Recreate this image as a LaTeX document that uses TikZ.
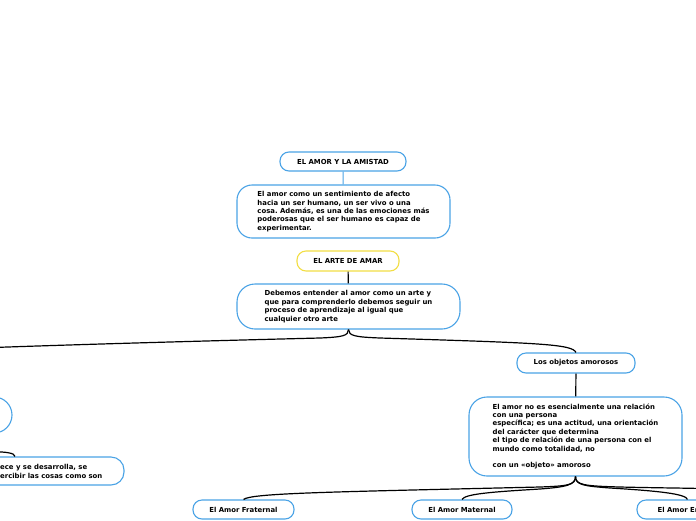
\documentclass[tikz,border=0pt]{standalone}
\usepackage{fontspec}
\setmainfont{DejaVu Sans}
\definecolor{bl}{HTML}{4AA3E6}
\definecolor{yl}{HTML}{F2DE45}
\frenchspacing
\begin{document}
\begin{tikzpicture}[x=1pt,y=-1pt,
  txt/.style={font=\fontsize{6.9}{8.4}\selectfont\bfseries, text=black},
  box/.style={txt, draw=bl, line width=1.1pt, rounded corners=9pt, fill=white, inner sep=0pt, align=center},
  big/.style={box, rounded corners=15pt, align=left},
  link/.style={line width=1.2pt, draw=black}]
\useasboundingbox (0,0) rectangle (696,520);
\clip (0,0) rectangle (696,520);
\fill[white] (0,0) rectangle (696,520);

% nodes
\node[box, minimum width=126pt, minimum height=19pt] (t1) at (343,161.5) {EL AMOR Y LA AMISTAD};
\node[big, minimum width=213pt, minimum height=53pt] (d1) at (343.5,211.5) {El amor como un sentimiento de afecto\\hacia un ser humano, un ser vivo o una\\cosa. Además, es una de las emociones más\hspace*{4pt}\\poderosas que el ser humano es capaz de\\experimentar.};
\node[box, draw=yl, minimum width=102pt, minimum height=20pt] (t2) at (348,261) {EL ARTE DE AMAR};
\node[big, minimum width=223pt, minimum height=45pt, rounded corners=18pt] (d2) at (348.5,306.5) {Debemos entender al amor como un arte y\\que para comprenderlo debemos seguir un\hspace*{7pt}\\proceso de aprendizaje al igual que\\cualquier otro arte};
\node[box, minimum width=118pt, minimum height=20pt] (o) at (576,363) {Los objetos amorosos};
\node[big, minimum width=213pt, minimum height=79pt, rounded corners=18pt] (d3) at (575.5,436.5) {El amor no es esencialmente una relación\\con una persona\\específica; es una actitud, una orientación\hspace*{8pt}\\del carácter que determina\\el tipo de relación de una persona con el\\mundo como totalidad, no\\~\\con un «objeto» amoroso};
\node[box, minimum width=101pt, minimum height=19pt] (f) at (243.5,509.5) {El Amor Fraternal};
\node[box, minimum width=100pt, minimum height=19pt] (m) at (462,509.5) {El Amor Maternal};
\node[box, minimum width=101pt, minimum height=19pt] (e) at (687.5,509.5) {El Amor Erótico};
\node[box, minimum width=120pt, minimum height=36pt, rounded corners=18pt] (l1) at (-48,415) {};
\node[box, minimum width=184pt, minimum height=28pt, rounded corners=13pt] (l2) at (32,471) {};
\node[txt, anchor=west, align=left, inner sep=0pt] (l2t) at (0,471.5) {ece y se desarrolla, se\\ercibir las cosas como son};

% free ends
\coordinate (lft) at (-20,348);
\coordinate (lf2) at (-20,452);
\coordinate (rgt) at (720,489);

% connectors
\draw[bl, line width=1pt] (t1) -- (d1);
\draw[link] (t2) -- (d2);
\draw[link] (d2.south) .. controls (348.5,336) and (342,337) .. (320,338) .. controls (200,341) and (60,345) .. (lft);
\draw[link] (d2.south) .. controls (348.5,336) and (356,337) .. (380,338) .. controls (540,343) and (572,344) .. (o.north);
\draw[link] (o) -- (d3);
\draw[link] (d3.south) .. controls (575.5,485) and (568,486) .. (540,487) .. controls (330,492) and (252,493) .. (f.north);
\draw[link] (d3.south) .. controls (575.5,485) and (566,487) .. (540,489) .. controls (490,492) and (465,494) .. (m.north);
\draw[link] (d3.south) .. controls (575.5,485) and (584,486) .. (610,488) .. controls (660,491) and (686,494) .. (e.north);
\draw[link] (d3.south) .. controls (575.5,485) and (584,486) .. (620,487) .. controls (660,488) and (690,488) .. (rgt);
\draw[link] (lf2) .. controls (6,451) and (15,453) .. ([xshift=-17pt]l2.north);
\end{tikzpicture}
\end{document}
